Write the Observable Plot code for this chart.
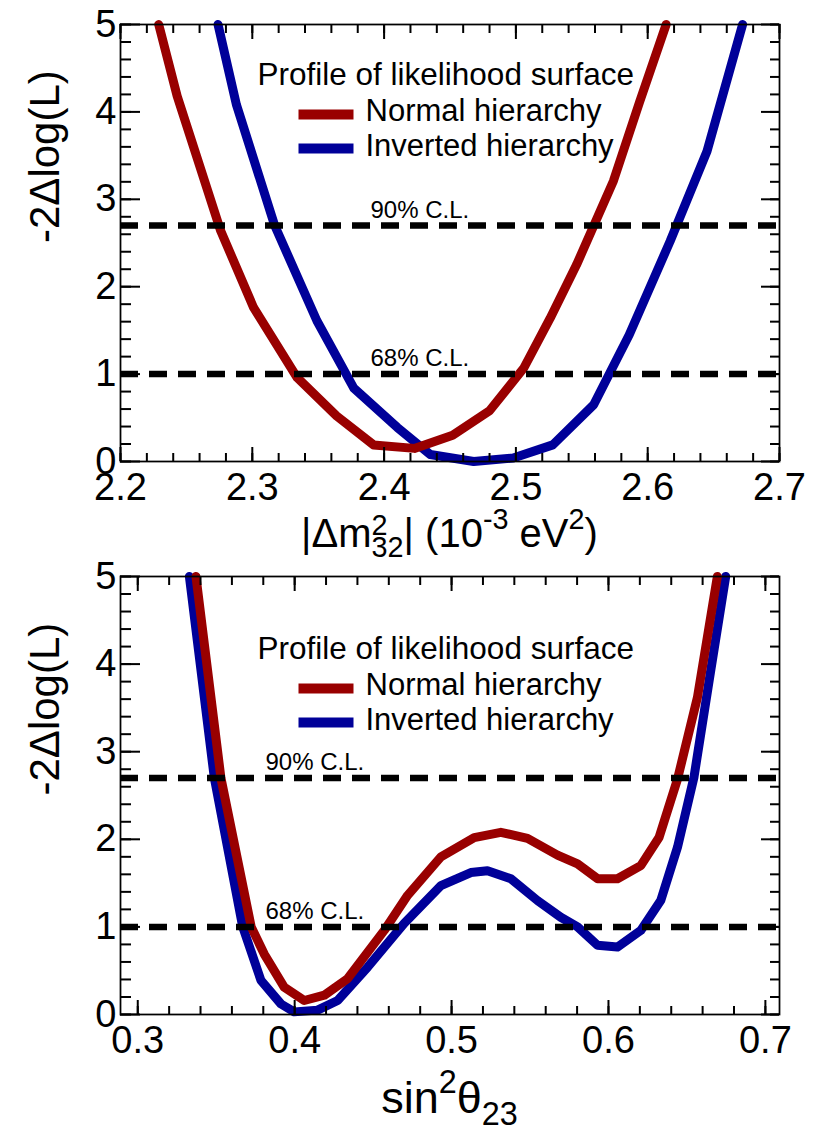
<!DOCTYPE html>
<html>
<head>
<meta charset="utf-8">
<script src="https://cdn.jsdelivr.net/npm/d3@7"></script>
<script src="https://cdn.jsdelivr.net/npm/@observablehq/plot@0.6"></script>
<style>
  html, body { margin: 0; padding: 0; background: #fff; }
  #root { position: relative; width: 813px; height: 1133px; font-family: 'Liberation Sans', Arial, Helvetica, sans-serif; color: #000; background: #fff; }
  .xtitle { position: absolute; left: 120px; width: 659px; text-align: center; white-space: nowrap; z-index: 5; }
  .sup { position: relative; font-size: 0.72em; top: -0.62em; }
  .stk { position: relative; display: inline-block; font-size: 0.72em; line-height: 1; }
  .stk .lo { position: relative; top: 0.36em; }
  .stk .hi { position: absolute; left: 0; top: -0.42em; }
  .sub { position: relative; font-size: 0.72em; top: 0.36em; }
</style>
</head>
<body>
<div id="root">
  <div class="xtitle" id="t1" style="top:513px;font-size:40px;line-height:40px;">|Δm<span class="stk"><span class="lo">32</span><span class="hi">2</span></span>| (10<span class="sup">-3</span> eV<span class="sup">2</span>)</div>
  <div class="xtitle" id="t2" style="top:1075px;font-size:45px;line-height:45px;">sin<span class="sup">2</span>θ<span class="sub">23</span></div>
</div>
<script>
// ---------- data: top panel, |Δm²32| (10^-3 eV²) ----------
const nhDm    = [2.229, 2.243, 2.276, 2.301, 2.334, 2.364, 2.392, 2.423, 2.452, 2.480, 2.506, 2.526, 2.546, 2.574, 2.594, 2.614];
const nhDmChi = [5.00, 4.18, 2.64, 1.76, 0.96, 0.52, 0.19, 0.15, 0.30, 0.58, 1.07, 1.64, 2.25, 3.21, 4.12, 5.00];
const ihDm    = [2.274, 2.288, 2.317, 2.349, 2.377, 2.410, 2.435, 2.468, 2.498, 2.528, 2.559, 2.586, 2.617, 2.645, 2.672];
const ihDmChi = [5.00, 4.08, 2.70, 1.61, 0.84, 0.39, 0.08, 0.00, 0.04, 0.19, 0.65, 1.45, 2.52, 3.55, 5.00];

// ---------- data: bottom panel, sin²θ23 ----------
const nhTh    = [0.3371, 0.3530, 0.3723, 0.3806, 0.3934, 0.4061, 0.4189, 0.4338, 0.4571, 0.4720, 0.4932, 0.5144, 0.5314, 0.5484, 0.5675, 0.5803, 0.5930, 0.6057, 0.6206, 0.6322, 0.6439, 0.6567, 0.6694];
const nhThChi = [5.00, 2.70, 1.00, 0.69, 0.31, 0.16, 0.22, 0.41, 0.96, 1.36, 1.80, 2.02, 2.08, 2.01, 1.82, 1.72, 1.55, 1.55, 1.70, 2.02, 2.68, 3.62, 5.00];
const ihTh    = [0.3329, 0.3488, 0.3669, 0.3785, 0.3913, 0.3997, 0.4146, 0.4274, 0.4465, 0.4698, 0.4932, 0.5123, 0.5229, 0.5378, 0.5548, 0.5696, 0.5803, 0.5930, 0.6057, 0.6206, 0.6333, 0.6440, 0.6545, 0.6652, 0.6747];
const ihThChi = [5.00, 2.70, 1.00, 0.39, 0.12, 0.03, 0.05, 0.16, 0.54, 1.04, 1.47, 1.62, 1.64, 1.55, 1.30, 1.11, 1.00, 0.79, 0.77, 0.96, 1.30, 1.91, 2.71, 3.93, 5.00];

// ---------- confidence levels, labels, ticks ----------
const clLevels = [2.7, 1];
const clLabels = ["90% C.L.", "68% C.L."];
const seriesNames = ["Normal hierarchy", "Inverted hierarchy"];
const legendTitle = "Profile of likelihood surface";
const yTitle = "-2Δlog(L)";
const yMajor = [0, 1, 2, 3, 4, 5];
const dmMajor = [2.2, 2.3, 2.4, 2.5, 2.6, 2.7];
const thMajor = [0.3, 0.4, 0.5, 0.6, 0.7];

const NH = "#990000", IH = "#000099";
const FONT = "'Liberation Sans', Arial, Helvetica, sans-serif";
const fmt = d3.format("~g");

const rows = (xs, ys) => xs.map((x, i) => ({x, y: ys[i]}));
const minorTicks = (a, b, step) => d3.range(Math.round((b - a) / step) + 1).map(i => +(a + i * step).toFixed(4));

function panel({xDomain, xMajor, xMinor, nh, ih, top, height, marginTop, marginBottom, legTop, clDx}) {
  const W = 813, mL = 120, mR = 34;
  const fw = W - mL - mR, fh = height - marginTop - marginBottom;
  const yMinor = minorTicks(0, 5, 0.2);
  const swatch = (color, cy) => Plot.frame({fill: color, stroke: "none",
    insetLeft: 178, insetRight: fw - 233, insetTop: cy - 5, insetBottom: fh - cy - 5});
  const tk = {stroke: "black", strokeWidth: 2};
  // inward ticks on all four sides, as short tick marks inset from the far side of the frame
  const ticksBottom = (data, s) => Plot.tickX(data, {x: d => d, insetTop: fh - s, ...tk});
  const ticksTop    = (data, s) => Plot.tickX(data, {x: d => d, insetBottom: fh - s, ...tk});
  const ticksLeft   = (data, s) => Plot.tickY(data, {y: d => d, insetRight: fw - s, ...tk});
  const ticksRight  = (data, s) => Plot.tickY(data, {y: d => d, insetLeft: fw - s, ...tk});
  const svg = Plot.plot({
    width: W, height, marginLeft: mL, marginRight: mR, marginTop, marginBottom,
    style: {fontFamily: FONT, background: "transparent", color: "black", overflow: "visible"},
    x: {domain: xDomain},
    y: {domain: [0, 5]},
    marks: [
      Plot.line(rows(...ih), {x: "x", y: "y", stroke: IH, strokeWidth: 9, strokeLinejoin: "round"}),
      Plot.line(rows(...nh), {x: "x", y: "y", stroke: NH, strokeWidth: 9, strokeLinejoin: "round"}),
      Plot.ruleY(clLevels, {stroke: "black", strokeWidth: 6.5, strokeDasharray: "18,11"}),
      Plot.text(clLevels, {y: d => d, text: (d, i) => clLabels[i], frameAnchor: "left", dx: clDx, dy: -8,
        textAnchor: "start", lineAnchor: "bottom", fontSize: 24, fill: "black"}),
      // legend
      Plot.text([legendTitle], {text: d => d, frameAnchor: "top-left", dx: 137, dy: legTop,
        textAnchor: "start", lineAnchor: "bottom", fontSize: 31.5, fill: "black"}),
      Plot.text([seriesNames[0]], {text: d => d, frameAnchor: "top-left", dx: 245, dy: legTop + 36,
        textAnchor: "start", lineAnchor: "bottom", fontSize: 31, fill: "black"}),
      Plot.text([seriesNames[1]], {text: d => d, frameAnchor: "top-left", dx: 245, dy: legTop + 71,
        textAnchor: "start", lineAnchor: "bottom", fontSize: 31, fill: "black"}),
      swatch(NH, legTop + 30),
      swatch(IH, legTop + 64),
      // ticks
      ticksBottom(xMinor, 8),
      ticksBottom(xMajor, 14),
      ticksTop(xMinor, 9),
      ticksTop(xMajor, 15),
      ticksLeft(yMinor, 11),
      ticksLeft(yMajor, 20),
      ticksRight(yMinor, 9),
      ticksRight(yMajor, 18),
      // tick labels
      Plot.axisX(xMajor, {anchor: "bottom", tickSize: 0, tickPadding: 12, fontSize: 38, fill: "black", label: null, tickFormat: fmt}),
      Plot.axisY(yMajor, {anchor: "left", tickSize: 0, tickPadding: 4, fontSize: 38, fill: "black", label: null, tickFormat: fmt}),
      Plot.text([yTitle], {text: d => d, frameAnchor: "left", dx: -75, rotate: -90, fontSize: 42, fill: "black"}),
      Plot.frame({stroke: "black", strokeWidth: 1.75})
    ]
  });
  svg.style.position = "absolute";
  svg.style.left = "0px";
  svg.style.top = top + "px";
  document.getElementById("root").appendChild(svg);
}

panel({
  xDomain: [2.2, 2.7], xMajor: dmMajor, xMinor: minorTicks(2.2, 2.7, 0.02),
  nh: [nhDm, nhDmChi], ih: [ihDm, ihDmChi],
  top: 0, height: 510, marginTop: 24, marginBottom: 49, legTop: 60, clDx: 250
});
panel({
  xDomain: [0.289, 0.709], xMajor: thMajor, xMinor: minorTicks(0.3, 0.7, 0.02),
  nh: [nhTh, nhThChi], ih: [ihTh, ihThChi],
  top: 552, height: 510, marginTop: 24, marginBottom: 48, legTop: 82, clDx: 145
});
</script>
</body>
</html>
